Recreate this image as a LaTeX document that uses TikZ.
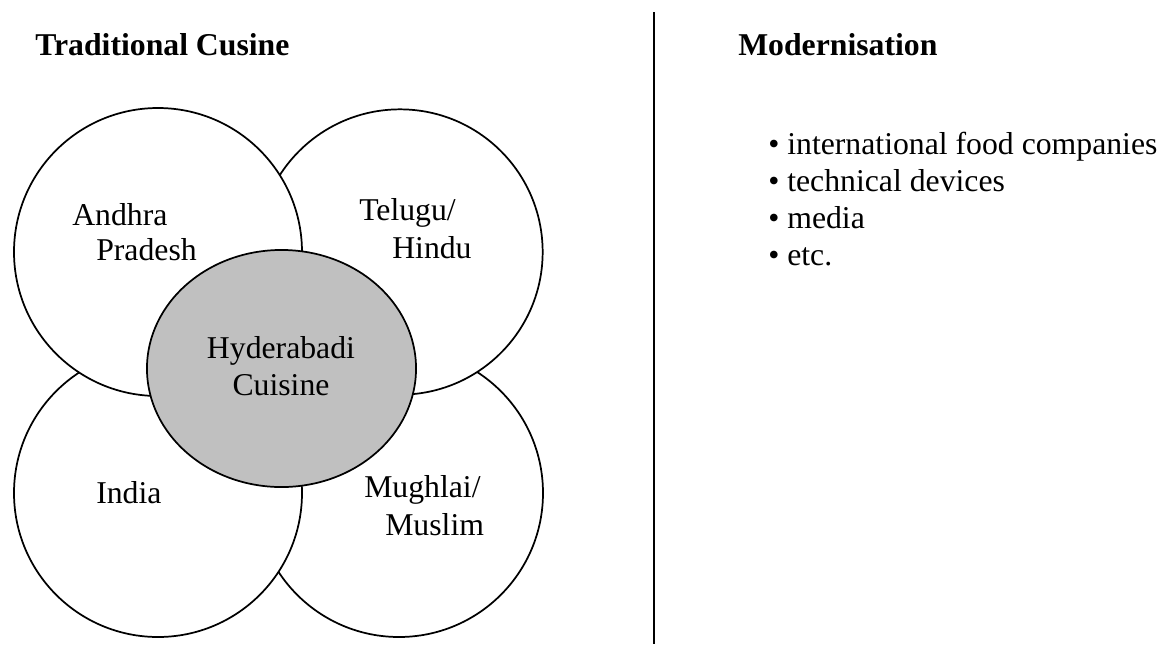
\documentclass[tikz,border=0pt]{standalone}
\usepackage{fontspec}
\setmainfont{Liberation Serif}
\definecolor{hubgray}{RGB}{192,192,192}
\begin{document}
\begin{tikzpicture}[x=0.75pt,y=-0.75pt,
  ring/.style={draw=black,fill=white,line width=1.3pt},
  hub/.style={draw=black,fill=hubgray,line width=1.3pt},
  lbl/.style={inner sep=0pt,anchor=base west,font=\fontsize{23.8}{27.75}\selectfont},
  clbl/.style={inner sep=0pt,anchor=base,font=\fontsize{23.8}{27.75}\selectfont},
  ttl/.style={inner sep=0pt,anchor=base west,font=\fontsize{23.8}{27.75}\selectfont\bfseries}]
\useasboundingbox (0,0) rectangle (1165,644);
% circles (drawing order gives the overlaps)
\filldraw[ring] (399,493) circle [radius=108pt];
\filldraw[ring] (158,493) circle [radius=108pt];
\filldraw[ring] (400,252) circle [radius=107pt];
\filldraw[ring] (158,252) circle [radius=108pt];
\filldraw[hub] (281.5,368.5) ellipse [x radius=100.9pt, y radius=88.9pt];
% labels
\node[ttl] (t1) at (35,55) {Traditional Cusine};
\node[ttl] (t2) at (738,55) {Modernisation};
\node[lbl] (ap1) at (72,225) {Andhra};
\node[lbl] (ap2) at (96,260) {Pradesh};
\node[lbl] (th1) at (359,220) {Telugu/};
\node[lbl] (th2) at (392,258) {Hindu};
\node[clbl] (hc1) at (281,358) {Hyderabadi};
\node[clbl] (hc2) at (281,395) {Cuisine};
\node[lbl] (in1) at (96,503) {India};
\node[lbl] (mm1) at (364,497) {Mughlai/};
\node[lbl] (mm2) at (385,535) {Muslim};
\node[lbl] (b1) at (768,154) {• international food companies};
\node[lbl] (b2) at (768,191) {• technical devices};
\node[lbl] (b3) at (768,228) {• media};
\node[lbl] (b4) at (768,265) {• etc.};
% divider
\coordinate (dtop) at (654,12);
\coordinate (dbot) at (654,644);
\draw[line width=1.4pt] (dtop) -- (dbot);
\end{tikzpicture}
\end{document}
